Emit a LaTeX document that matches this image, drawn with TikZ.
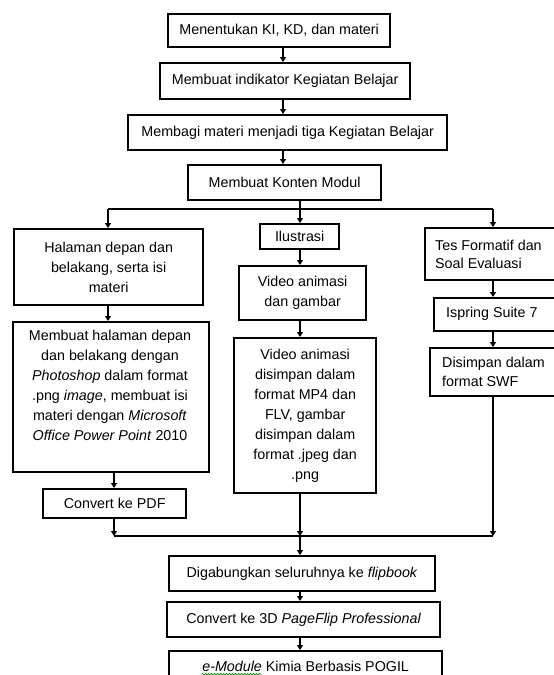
\documentclass[tikz,border=0pt]{standalone}
\usepackage{fontspec}
\setmainfont{Liberation Sans}
\usetikzlibrary{arrows.meta,decorations.pathmorphing}
\begin{document}
\begin{tikzpicture}[x=1pt,y=-1pt,
  box/.style={draw,line width=2.3pt,inner sep=0pt,anchor=north west,
    font=\fontsize{14.3}{20}\selectfont,align=center},
  txt/.style={inner sep=0pt,font=\fontsize{14.3}{20}\selectfont,align=center},
  ltxt/.style={inner sep=0pt,anchor=west,align=left},
  link/.style={line width=1.3pt},
  arr/.style={line width=1.3pt,-{Triangle[length=5pt,width=6pt]}}]
\useasboundingbox (0,0) rectangle (554,675);
\clip (0,0) rectangle (554,675);

% top chain
\node[box,minimum width=222pt,minimum height=33pt] (b1) at (167,13) {Menentukan KI, KD, dan materi};
\node[box,minimum width=250pt,minimum height=36pt] (b2) at (159,62) {Membuat indikator Kegiatan Belajar};
\node[box,minimum width=319pt,minimum height=35pt] (b3) at (127,114) {Membagi materi menjadi tiga Kegiatan Belajar};
\node[box,minimum width=193pt,minimum height=35pt] (b4) at (187,164) {Membuat Konten Modul};

\coordinate (s1) at (283,0);
\draw[arr] (b1.south -| s1) -- (b2.north -| s1);
\draw[arr] (b2.south -| s1) -- (b3.north -| s1);
\draw[arr] (b3.south -| s1) -- (b4.north -| s1);

% branch coordinates
\coordinate (jl) at (108,209);
\coordinate (jt) at (300,209);
\coordinate (jr) at (493,209);

% left column
\node[box,minimum width=189pt,minimum height=76pt] (l1) at (13,228) {Halaman depan dan\\belakang, serta isi\\materi};
\node[box,minimum width=196pt,minimum height=150pt] (l2) at (12,321) {};
\node[txt,anchor=north] (l2t) at (110,329.5) {Membuat halaman depan\\dan belakang dengan\\\textit{Photoshop} dalam format\\.png \textit{image}, membuat isi\\materi dengan \textit{Microsoft}\\\textit{Office Power Point} 2010};
\node[box,minimum width=143pt,minimum height=29pt] (l3) at (42,488) {Convert ke PDF};

% middle column
\node[box,minimum width=79pt,minimum height=25pt] (m1) at (259,223) {Ilustrasi};
\node[box,minimum width=127pt,minimum height=54pt] (m2) at (238,265) {Video animasi\\dan gambar};
\node[box,minimum width=142pt,minimum height=155pt] (m3) at (233,337) {Video animasi\\disimpan dalam\\format MP4 dan\\FLV, gambar\\disimpan dalam\\format .jpeg dan\\.png};

% right column
\node[box,minimum width=140pt,minimum height=52pt] (r1) at (424,227) {};
\node[ltxt,font=\fontsize{14.3}{18}\selectfont] (r1t) at (435,254) {Tes Formatif dan\\Soal Evaluasi};
\node[box,minimum width=130pt,minimum height=33pt] (r2) at (433,297) {};
\node[ltxt,font=\fontsize{14.3}{19}\selectfont] (r2t) at (446,313.5) {Ispring Suite 7};
\node[box,minimum width=135pt,minimum height=48pt] (r3) at (429,347) {};
\node[ltxt,font=\fontsize{14.3}{19}\selectfont] (r3t) at (442,372) {Disimpan dalam\\format SWF};

% bottom chain
\node[box,minimum width=266pt,minimum height=35pt] (g1) at (168,555) {Digabungkan seluruhnya ke \textit{flipbook}};
\node[box,minimum width=273pt,minimum height=35pt] (g2) at (166,601) {Convert ke 3D \textit{PageFlip} \textit{Professional}};
\node[box,minimum width=273pt,minimum height=30pt] (g3) at (168,650) {\textit{e-Module} Kimia Berbasis POGIL};
\draw[green!55!black,line width=0.7pt,decorate,decoration={snake,amplitude=0.8pt,segment length=3pt}]
  ([xshift=-104pt,yshift=-8pt]g3.center) -- ([xshift=-44pt,yshift=-8pt]g3.center);

% branch connectors
\draw[link] (b4.south -| jt) -- (jt);
\draw[link] (jl) -- (jr);
\draw[arr] (jl) -- (l1.north -| jl);
\draw[arr] (jt) -- (m1.north -| jt);
\draw[arr] (jr) -- (r1.north -| jr);

\coordinate (xl) at (114,0);
\draw[arr] (l1.south -| jl) -- (l2.north -| jl);
\draw[arr] (l2.south -| xl) -- (l3.north -| xl);

\draw[arr] (m1.south -| jt) -- (m2.north -| jt);
\draw[arr] (m2.south -| jt) -- (m3.north -| jt);

\draw[arr] (r1.south -| jr) -- (r2.north -| jr);
\draw[arr] (r2.south -| jr) -- (r3.north -| jr);

% join
\coordinate (bl) at (114,536);
\coordinate (bm) at (300,536);
\coordinate (br) at (493,536);
\draw[arr] (l3.south -| bl) -- (bl);
\draw[arr] (m3.south -| bm) -- (bm);
\draw[arr] (r3.south -| br) -- (br);
\draw[link] (bl) -- (br);
\draw[arr] (bm) -- (g1.north -| bm);
\draw[arr] (g1.south -| bm) -- (g2.north -| bm);
\draw[arr] (g2.south -| bm) -- (g3.north -| bm);
\end{tikzpicture}
\end{document}
